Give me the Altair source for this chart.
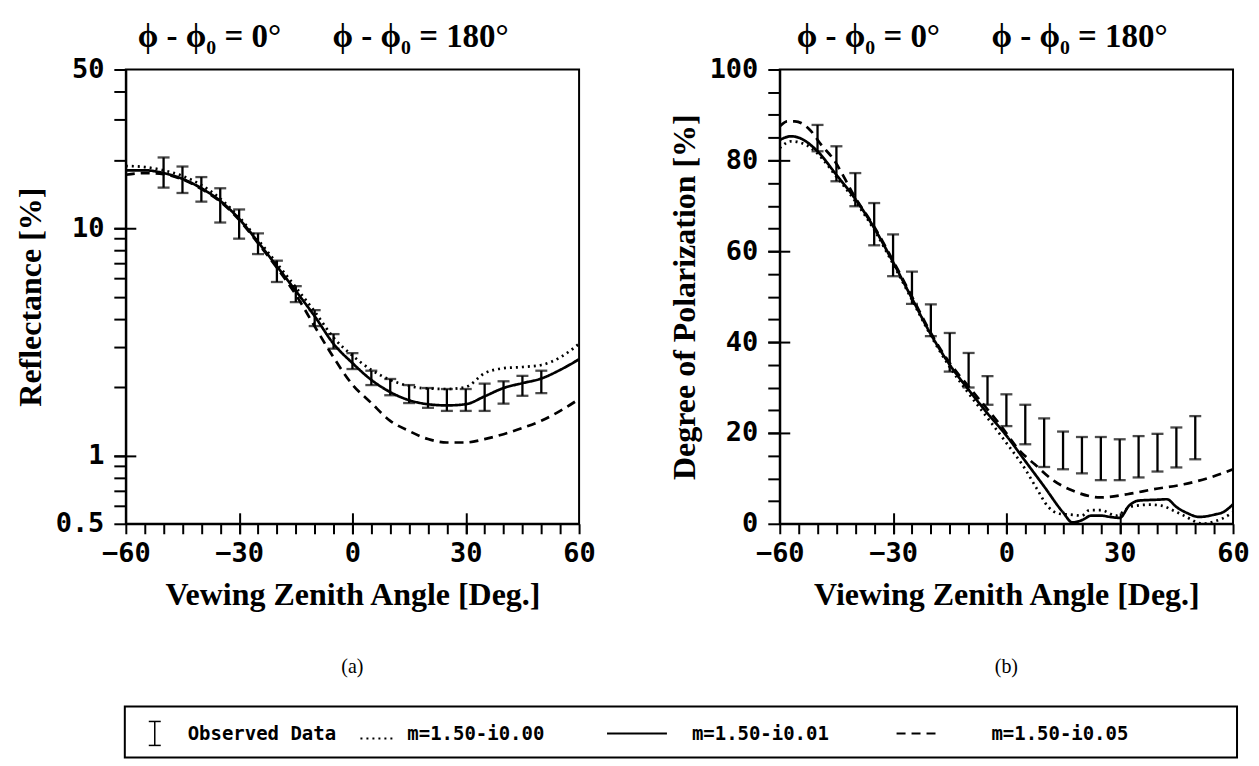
import altair as alt
import pandas as pd

# ---------------- data ----------------
SERIES = ["m=1.50-i0.00", "m=1.50-i0.01", "m=1.50-i0.05"]

OBS_ANGLE = list(range(-50, 51, 5))
REFL_OBS_LO = [15.1, 14.3, 13.1, 10.6, 9.0, 7.7, 5.8, 4.73, 3.71, 2.95, 2.40,
               2.04, 1.84, 1.70, 1.62, 1.57, 1.57, 1.57, 1.69, 1.83, 1.88]
REFL_OBS_HI = [20.5, 18.7, 16.8, 15.0, 12.1, 9.5, 7.2, 5.56, 4.36, 3.42, 2.82,
               2.36, 2.17, 2.04, 1.98, 1.96, 1.96, 2.07, 2.12, 2.24, 2.36]
DOP_OBS_LO = [82.0, 75.4, 69.9, 61.3, 54.5, 48.4, 41.3, 33.5, 30.0, 26.2, 21.5,
              17.5, 12.5, 12.0, 11.1, 9.6, 9.6, 10.2, 11.5, 12.4, 14.2]
DOP_OBS_HI = [87.8, 83.1, 77.2, 70.6, 63.7, 55.5, 48.3, 42.0, 37.6, 32.5, 28.5,
              26.2, 23.2, 20.3, 19.1, 19.1, 18.6, 19.3, 19.8, 21.2, 23.7]

REFL_ANGLE = list(range(-60, 61, 5))
REFL_M000 = [18.8, 18.6, 18.0, 17.0, 15.5, 13.5, 11.2, 8.9, 7.0, 5.5, 4.3, 3.3,
             2.75, 2.38, 2.15, 2.02, 1.97, 1.96, 2.0, 2.3, 2.42, 2.45, 2.5, 2.7, 3.1]
REFL_M001 = [18.0, 18.0, 17.5, 16.5, 15.0, 13.2, 11.0, 8.7, 6.8, 5.3, 4.1, 3.1,
             2.55, 2.15, 1.90, 1.75, 1.68, 1.66, 1.68, 1.82, 1.98, 2.08, 2.18, 2.38, 2.65]
REFL_M005 = [17.2, 17.5, 17.3, 16.4, 14.9, 13.1, 10.9, 8.6, 6.7, 5.1, 3.7, 2.7,
             2.05, 1.7, 1.42, 1.28, 1.18, 1.14, 1.14, 1.18, 1.24, 1.32, 1.42, 1.57, 1.77]

DOP_ANGLE_M000 = [-60, -57, -53, -50, -45, -40, -35, -30, -25, -20, -15, -10, -5, 0, 5, 8,
                  11, 14, 17, 20, 22, 25, 29, 33, 38, 41, 44, 47, 52, 55, 57, 60]
DOP_M000 = [82.7, 84.2, 83.4, 81.5, 76.4, 71.0, 64.7, 57.2, 49.3, 41.4, 34.5, 28.7, 23.3,
            17.8, 12.0, 7.8, 3.8, 2.2, 2.0, 1.8, 3.0, 3.0, 1.8, 3.8, 4.2, 4.0, 3.0, 1.8,
            0.0, 0.5, 1.1, 2.5]

DOP_ANGLE_M001 = [-60, -57, -55, -50, -45, -40, -35, -30, -25, -20, -15, -10, -5, 0, 5, 10,
                  15, 17.5, 20, 22.5, 25, 27.5, 30, 32.5, 35, 40, 42.5, 45, 48, 51, 55, 57.5, 60]
DOP_M001 = [84.5, 85.3, 85.0, 82.0, 76.8, 71.5, 65.1, 57.6, 49.6, 41.7, 35.0, 29.5, 24.3,
            19.4, 13.8, 8.2, 2.5, 0.3, 0.8, 1.8, 1.8, 1.5, 1.3, 4.0, 5.1, 5.3, 5.4, 3.7,
            2.3, 1.5, 2.0, 2.6, 4.3]

DOP_ANGLE_M005 = [-60, -58, -56, -52, -49, -46, -40, -35, -30, -25, -20, -15, -10, -5,
                  -1.5, 3.5, 7.5, 12.5, 17.5, 25, 32, 39, 47, 54, 60]
DOP_M005 = [87.5, 88.6, 88.6, 86.7, 83.4, 80.5, 71.8, 65.4, 57.9, 50.0, 42.0, 35.4, 30.2,
            25.2, 21.6, 16.1, 13.1, 9.5, 7.3, 5.8, 6.5, 7.6, 8.7, 10.2, 12.0]

LEGEND_LABELS = ["Observed Data"] + SERIES
PHI_LABELS = ["\u03d5 - \u03d5\u2080 = 0\u00b0", "\u03d5 - \u03d5\u2080 = 180\u00b0"]

# ---------------- style / layout ----------------
W, H = 454, 455
DASHES = [[2, 4], [1, 0], [9, 6]]
WIDTHS = [2.7, 2.7, 2.3]
MONO = "DejaVu Sans Mono"
SERIF = "Liberation Serif"
X_TICKS = list(range(-60, 61, 5))
LEG_Y0, LEG_H, LEG_X0, LEG_W = 638, 51, -1, 1114


def long_df(pairs):
    rows = []
    for name, xs, ys in pairs:
        for x, y in zip(xs, ys):
            rows.append({"series": name, "angle": x, "value": y})
    return pd.DataFrame(rows)


refl_lines = long_df([(SERIES[0], REFL_ANGLE, REFL_M000),
                      (SERIES[1], REFL_ANGLE, REFL_M001),
                      (SERIES[2], REFL_ANGLE, REFL_M005)])
dop_lines = long_df([(SERIES[0], DOP_ANGLE_M000, DOP_M000),
                     (SERIES[1], DOP_ANGLE_M001, DOP_M001),
                     (SERIES[2], DOP_ANGLE_M005, DOP_M005)])
refl_obs = pd.DataFrame({"angle": OBS_ANGLE, "lo": REFL_OBS_LO, "hi": REFL_OBS_HI})
dop_obs = pd.DataFrame({"angle": OBS_ANGLE, "lo": DOP_OBS_LO, "hi": DOP_OBS_HI})
one = pd.DataFrame({"k": [0]})


def text_layer(txt, x, y, font, size, weight="bold", align="left"):
    return alt.Chart(pd.DataFrame({"t": [txt]})).mark_text(
        font=font, fontSize=size, fontWeight=weight, align=align,
        baseline="alphabetic", color="black"
    ).encode(text="t:N", x=alt.value(x), y=alt.value(y))


def hrule(x1, x2, y, width=2, dash=None):
    kw = {"color": "black", "strokeWidth": width}
    if dash is not None:
        kw["strokeDash"] = dash
    return alt.Chart(one).mark_rule(**kw).encode(x=alt.value(x1), x2=alt.value(x2), y=alt.value(y))


def legend_layers():
    y0 = LEG_Y0
    layers = [
        alt.Chart(one).mark_rect(filled=False, stroke="black", strokeWidth=2).encode(
            x=alt.value(LEG_X0), x2=alt.value(LEG_X0 + LEG_W),
            y=alt.value(y0), y2=alt.value(y0 + LEG_H)),
        alt.Chart(one).mark_rule(color="black", strokeWidth=1.5).encode(
            x=alt.value(LEG_X0 + 30), y=alt.value(y0 + 15), y2=alt.value(y0 + 39)),
        hrule(LEG_X0 + 24, LEG_X0 + 36, y0 + 15, 1.5),
        hrule(LEG_X0 + 24, LEG_X0 + 36, y0 + 39, 1.5),
    ]
    sample_pos = [(236, 270, 32), (483, 543, 27), (773, 818, 27)]
    for i, (x1, x2, yy) in enumerate(sample_pos):
        layers.append(hrule(LEG_X0 + x1, LEG_X0 + x2, y0 + yy, 2, DASHES[i]))
    for lbl, tx in zip(LEGEND_LABELS, [63, 283, 568, 868]):
        layers.append(text_layer(lbl, LEG_X0 + tx, y0 + 34, MONO, 19))
    return layers


def make_panel(lines_df, obs_df, y_scale, y_ticks, y_label_expr, y_format, y_inner,
               y_title, x_title, caption, phi_x, extra=None):
    x_scale = alt.Scale(domain=[-60, 60], nice=False, zero=False)
    x_main = alt.Axis(values=X_TICKS, labelExpr="datum.value % 30 == 0 ? datum.label : ''",
                      tickSize=10, labelPadding=7, labelFlush=False, labelOverlap=False,
                      title=x_title, titlePadding=13, grid=False)
    y_main = alt.Axis(values=y_ticks, labelExpr=y_label_expr, format=y_format, tickSize=12,
                      labelPadding=10, labelOverlap=False, labelFlush=False,
                      title=y_title, titlePadding=8, grid=False)
    x_in = alt.Axis(values=[-30, 0, 30], orient="bottom", offset=-11, tickSize=21,
                    labels=False, domain=False, title=None, grid=False)
    y_in = alt.Axis(values=y_inner, orient="left", offset=-10, tickSize=22,
                    labels=False, domain=False, title=None, grid=False)

    lines = alt.Chart(lines_df).mark_line(color="black", interpolate="monotone", clip=True).encode(
        x=alt.X("angle:Q", scale=x_scale, axis=x_main),
        y=alt.Y("value:Q", scale=y_scale, axis=y_main),
        strokeDash=alt.StrokeDash("series:N", scale=alt.Scale(domain=SERIES, range=DASHES), legend=None),
        strokeWidth=alt.StrokeWidth("series:N", scale=alt.Scale(domain=SERIES, range=WIDTHS), legend=None),
        detail="series:N",
    )
    bars = alt.Chart(obs_df).mark_rule(color="black", strokeWidth=2.3).encode(
        x=alt.X("angle:Q", axis=None), y=alt.Y("lo:Q", axis=None), y2="hi:Q")
    cap_lo = alt.Chart(obs_df).mark_tick(color="black", orient="horizontal", size=12, thickness=2.3).encode(
        x=alt.X("angle:Q", axis=x_in), y=alt.Y("lo:Q", axis=y_in))
    cap_hi = alt.Chart(obs_df).mark_tick(color="black", orient="horizontal", size=12, thickness=2.3).encode(
        x=alt.X("angle:Q", axis=None), y=alt.Y("hi:Q", axis=None))

    layers = [lines, bars, cap_lo, cap_hi,
              text_layer(PHI_LABELS[0], phi_x[0], -23, SERIF, 33),
              text_layer(PHI_LABELS[1], phi_x[1], -23, SERIF, 33),
              text_layer(caption, W / 2, 604, SERIF, 20, weight="normal", align="center")]
    if extra:
        layers += extra
    return alt.layer(*layers).resolve_axis(x="independent", y="independent").properties(width=W, height=H)


LOG_TICKS = [0.5, 0.6, 0.7, 0.8, 0.9, 1, 2, 3, 4, 5, 6, 7, 8, 9, 10, 20, 30, 40, 50]
left = make_panel(
    refl_lines, refl_obs,
    alt.Scale(type="log", domain=[0.5, 50], nice=False),
    LOG_TICKS, "indexof([0.5, 1, 10, 50], datum.value) >= 0 ? datum.label : ''", "~g", [1, 10],
    "Reflectance [%]", "Vewing Zenith Angle [Deg.]", "(a)", (12, 207), extra=legend_layers())
right = make_panel(
    dop_lines, dop_obs,
    alt.Scale(domain=[0, 100], nice=False),
    list(range(0, 101, 5)), "datum.value % 20 == 0 ? datum.label : ''", "d", [20, 40, 60, 80],
    "Degree of Polarization [%]", "Viewing Zenith Angle [Deg.]", "(b)", (17, 212))

chart = alt.hconcat(left, right, spacing=201, bounds="flush").properties(
    padding={"left": 5, "top": 11, "right": 0, "bottom": 0}
).configure_view(
    stroke="black", strokeWidth=2
).configure_axis(
    domainColor="black", domainWidth=2, tickColor="black", tickWidth=2,
    labelColor="black", titleColor="black",
    labelFont=MONO, labelFontWeight="bold", labelFontSize=27,
    titleFont=SERIF, titleFontWeight="bold", titleFontSize=32,
)

chart.save("out.html", embed_options={"renderer": "svg", "actions": False})
